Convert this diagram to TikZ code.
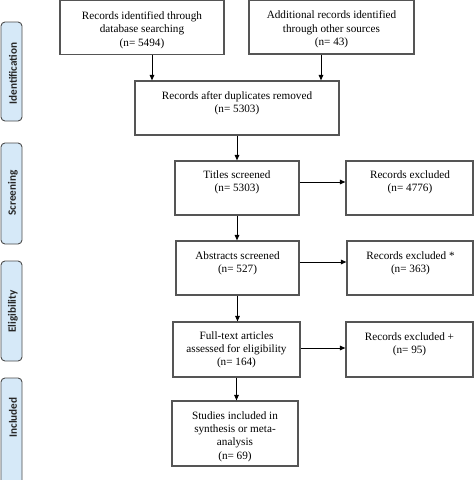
\documentclass[tikz,border=0pt]{standalone}
\usepackage{fontspec}
\setmainfont{Liberation Serif}
\newfontfamily\labfont{Carlito}
\usetikzlibrary{arrows.meta,calc}
\definecolor{sidefill}{HTML}{D6E9F8}
\definecolor{sidedraw}{HTML}{4D4D4D}
\definecolor{boxdraw}{HTML}{555555}
\begin{document}
\begin{tikzpicture}[x=1pt,y=-1pt,
  box/.style={draw=boxdraw, line width=1.1pt, inner sep=0pt, fill=white},
  txt/.style={align=center, inner sep=0pt, font=\fontsize{11.2}{13.3}\selectfont},
  side/.style={draw=sidedraw, fill=sidefill, rounded corners=4pt, line width=0.9pt, inner sep=0pt, minimum width=21pt},
  sidetxt/.style={rotate=90, font=\labfont\bfseries\fontsize{11.2}{13}\selectfont, inner sep=0pt, text=black!85},
  arr/.style={-{Triangle[length=5.5pt,width=4.5pt]}, line width=1pt, black}]
\useasboundingbox (0,0) rectangle (474,480);
% side labels
\node[side, minimum height=99pt] (sid) at (11.5,71.5) {};
\node[side, minimum height=101pt] (ssc) at (11.5,193.5) {};
\node[side, minimum height=100pt] (sel) at (11.5,311) {};
\node[side, minimum height=112pt] (sin) at (11.5,434) {};
\node[sidetxt] (tid) at (13,73.5) {Identification};
\node[sidetxt] (tsc) at (13,193) {Screening};
\node[sidetxt] (tel) at (13,311.5) {Eligibility};
\node[sidetxt] (tin) at (13,417.5) {Included};
% boxes
\node[box, minimum width=164pt, minimum height=54pt] (b1) at (142,27.5) {};
\node[box, minimum width=165pt, minimum height=54pt] (b2) at (331.5,27) {};
\node[box, minimum width=204pt, minimum height=54pt] (b3) at (237,108) {};
\node[box, minimum width=124pt, minimum height=54pt] (t1) at (237,188) {};
\node[box, minimum width=127pt, minimum height=54pt] (e1) at (409.5,188) {};
\node[box, minimum width=123pt, minimum height=54pt] (a1) at (237.5,268) {};
\node[box, minimum width=126pt, minimum height=54pt] (e2) at (410,268) {};
\node[box, minimum width=127pt, minimum height=55pt] (f1) at (236.5,349.5) {};
\node[box, minimum width=127pt, minimum height=55pt] (e3) at (409.5,349.5) {};
\node[box, minimum width=126pt, minimum height=65pt] (s1) at (235,433.5) {};
% texts
\node[txt] (xb1) at (142,30) {Records identified through\\database searching\\(n= 5494)};
\node[txt] (xb2) at (331.5,29.5) {Additional records identified\\through other sources\\(n= 43)};
\node[txt] (xb3) at (237,103) {Records after duplicates removed\\(n= 5303)};
\node[txt] (xt1) at (237,182.5) {Titles screened\\(n= 5303)};
\node[txt] (xe1) at (410,182.5) {Records excluded\\(n= 4776)};
\node[txt] (xa1) at (237.5,263.5) {Abstracts screened\\(n= 527)};
\node[txt] (xe2) at (410.5,263.5) {Records excluded *\\(n= 363)};
\node[txt] (xf1) at (236.5,350) {Full-text articles\\assessed for eligibility\\(n= 164)};
\node[txt] (xe3) at (409.5,344) {Records excluded +\\(n= 95)};
\node[txt] (xs1) at (235,436.5) {Studies included in\\synthesis or meta-\\analysis\\(n= 69)};
% arrows
\draw[arr] ([xshift=10pt]b1.south) -- ([xshift=10pt]b1.south |- b3.north);
\draw[arr] ([xshift=-10.5pt]b2.south) -- ([xshift=-10.5pt]b2.south |- b3.north);
\draw[arr] (b3.south) -- (b3.south |- t1.north);
\draw[arr] (t1.south) -- (t1.south |- a1.north);
\draw[arr] (a1.south) -- (a1.south |- f1.north);
\draw[arr] (f1.south) -- (f1.south |- s1.north);
\draw[arr] ([yshift=6pt]t1.east) -- ([yshift=6pt]t1.east -| e1.west);
\draw[arr] ([yshift=6pt]a1.east) -- ([yshift=6pt]a1.east -| e2.west);
\draw[arr] ([yshift=1.5pt]f1.east) -- ([yshift=1.5pt]f1.east -| e3.west);
\end{tikzpicture}
\end{document}
